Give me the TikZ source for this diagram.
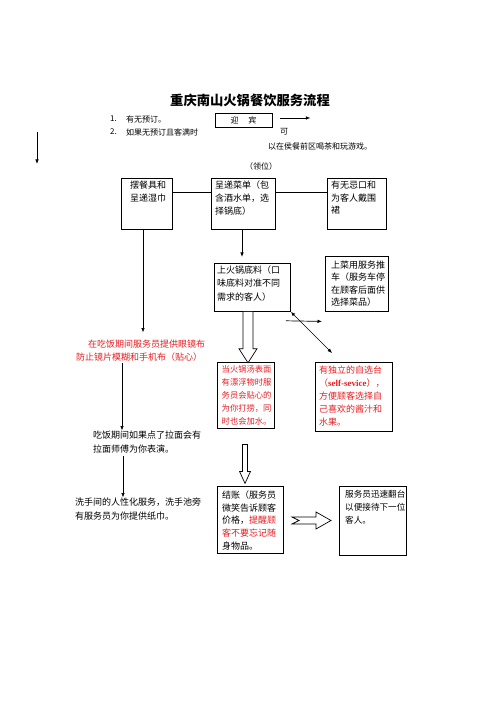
\documentclass[tikz,border=0pt]{standalone}
\usepackage{fontspec}
\setmainfont{Noto Sans CJK SC}
\newfontfamily\serifb{Liberation Serif}
\usetikzlibrary{arrows.meta,calc}
\definecolor{redtxt}{RGB}{230,30,35}
\begin{document}
\begin{tikzpicture}[x=1pt,y=-1pt,
  box/.style={draw, line width=0.8pt, inner sep=0pt, anchor=north west},
  heavybox/.style={draw, line width=1.4pt, inner sep=0pt, anchor=north west},
  txt/.style={inner sep=0pt, align=left, anchor=north west, font=\fontsize{9}{12.8}\selectfont},
  small/.style={inner sep=0pt, font=\fontsize{8}{10}\selectfont},
  arr/.style={line width=0.7pt, -{Latex[length=4.5pt,width=3.5pt]}},
  arrboth/.style={line width=0.7pt, {Latex[length=4.5pt,width=3.5pt]}-{Latex[length=4.5pt,width=3.5pt]}},
  ln/.style={line width=0.7pt},
  hollow/.style={draw, line width=0.7pt, fill=white}]
\useasboundingbox (0,0) rectangle (500,708);
\fill[white] (0,0) rectangle (500,708);

% title and header
\node[inner sep=0pt, font=\fontsize{13.3}{15}\selectfont\bfseries] (title) at (250,100) {重庆南山火锅餐饮服务流程};
\node[small, anchor=west] (n1) at (110,119) {1.};
\node[small, anchor=west] (t1) at (126,119) {有无预订。};
\node[small, anchor=west] (n2) at (110,132) {2.};
\node[small, anchor=west] (t2) at (126,132) {如果无预订且客满时};
\node[draw, line width=0.8pt, minimum width=57pt, minimum height=14pt, inner sep=0pt, font=\fontsize{8}{10}\selectfont] (yb) at (243.5,120) {迎\hspace{1.2em}宾};
\coordinate (ybs) at ($(yb.east)+(8,-2)$);
\draw[arr] (ybs) -- ++(30,0) coordinate (ybe);
\node[small] (ke) at (284,132) {可};
\node[small, anchor=west] (hou) at (268,146) {以在侯餐前区喝茶和玩游戏。};
\node[small] (lw) at (261,166) {（领位）};
\coordinate (l1) at (37,132);
\coordinate (l2) at (37,164);
\draw[arr] (l1) -- (l2);

% first row
\node[box, minimum width=51pt, minimum height=51pt] (A) at (121,178) {};
\node[txt] (At) at (130,180.5) {摆餐具和\\呈递湿巾};
\node[box, minimum width=64pt, minimum height=51pt] (B) at (211,178) {};
\node[txt] (Bt) at (215,180.5) {呈递菜单（包\\含酒水单，选\\择锅底）};
\node[box, minimum width=59pt, minimum height=51pt] (C) at (327,178) {};
\node[txt] (Ct) at (331,180.5) {有无忌口和\\为客人戴围\\裙};
\draw[ln] ($(A.north east)+(0,14)$) -- ($(B.north west)+(0,14)$);
\draw[ln] ($(B.north east)+(0,14)$) -- ($(C.north west)+(0,14)$);

% second row
\node[box, minimum width=76pt, minimum height=48pt] (D) at (214,263) {};
\node[txt, font=\fontsize{9}{13.3}\selectfont] (Dt) at (217,265.5) {上火锅底料（口\\味底料对准不同\\需求的客人）};
\node[heavybox, minimum width=63pt, minimum height=55pt] (E) at (325,256) {};
\node[txt, font=\fontsize{9}{12.4}\selectfont] (Et) at (331,260.5) {上菜用服务推\\车（服务车停\\在顾客后面供\\选择菜品）};
\coordinate (b1) at ($(B.south west)+(31,0)$);
\draw[arr, shorten >=6pt] (b1) -- (b1 |- D.north);

% red note left
\node[txt, text=redtxt] (red) at (76,339.5) {\hspace*{12pt}在吃饭期间服务员提供眼镜布\\防止镜片模糊和手机布（贴心）};
\coordinate (a1) at ($(A.south west)+(22,0)$);
\draw[arr, shorten >=7pt] (a1) -- (a1 |- red.north);

% third row
\node[heavybox, minimum width=57pt, minimum height=66pt] (F) at (217,362) {};
\node[txt, text=redtxt, font=\fontsize{8.3}{13}\selectfont] (Ft) at (221.5,365.5) {当火锅汤表面\\有漂浮物时服\\务员会贴心的\\为你打捞，同\\时也会加水。};
\node[heavybox, minimum width=77pt, minimum height=69pt] (G) at (315,362) {};
\node[txt, text=redtxt, font=\fontsize{9}{13}\selectfont] (Gt) at (319,365.5) {有独立的自选台\\（{\serifb\bfseries self-sevice}），\\方便顾客选择自\\己喜欢的酱汁和\\水果。};

% hollow arrow D -> F
\coordinate (h1) at ($(D.south west)+(34,0)$);
\draw[hollow] ($(h1)+(-5,0)$) -- ($(h1)+(-5,37)$) -- ($(h1)+(-9,37)$) -- ($(h1)+(0,51)$) -- ($(h1)+(9,37)$) -- ($(h1)+(5,37)$) -- ($(h1)+(5,0)$);

% small arrows between D/E
\draw[arr] ($(D.south east)+(-5,9)$) -- ($(E.south west)+(-3,9)$);
\draw[arrboth] (D.south east) -- ($(G.north west)+(17,-9)$);

% left column texts
\node[txt, font=\fontsize{9}{14}\selectfont] (lm) at (93,430.5) {吃饭期间如果点了拉面会有\\拉面师傅为你表演。};
\coordinate (r1) at ($(red.south west)+(46,2)$);
\draw[arr] (r1) -- (r1 |- lm.north) ;
\node[txt, font=\fontsize{9}{14}\selectfont] (xs) at (75,497.5) {洗手间的人性化服务，洗手池旁\\有服务员为你提供纸巾。};
\coordinate (r2) at ($(lm.south west)+(30,3)$);
\draw[arr] (r2) -- (r2 |- xs.north);

% fourth row
\node[draw, line width=1pt, inner sep=0pt, anchor=north west, minimum width=66pt, minimum height=67pt] (H) at (217,486) {};
\node[txt, font=\fontsize{9}{12.7}\selectfont] (Ht) at (222,490.5) {结账（服务员\\微笑告诉顾客\\价格，\textcolor{redtxt}{提醒顾}\\\textcolor{redtxt}{客不要忘记随}\\身物品。};
\node[draw, line width=1pt, inner sep=0pt, anchor=north west, minimum width=67pt, minimum height=69pt] (I) at (339,486) {};
\node[txt, font=\fontsize{8.6}{12.7}\selectfont] (It) at (345,490.5) {服务员迅速翻台\\以便接待下一位\\客人。};

% hollow arrow F -> H
\coordinate (h2) at ($(F.south west)+(28,15)$);
\draw[hollow] ($(h2)+(-2.5,0)$) -- ($(h2)+(-2.5,27)$) -- ($(h2)+(-5.5,27)$) -- ($(h2)+(0,39)$) -- ($(h2)+(5.5,27)$) -- ($(h2)+(2.5,27)$) -- ($(h2)+(2.5,0)$) -- cycle;

% hollow arrow H -> I
\coordinate (h3) at ($(H.east)+(8,0.5)$);
\draw[hollow] ($(h3)+(0,-3.5)$) -- ($(h3)+(24,-3.5)$) -- ($(h3)+(24,-8.5)$) -- ($(h3)+(39,0)$) -- ($(h3)+(24,8.5)$) -- ($(h3)+(24,3.5)$) -- ($(h3)+(0,3.5)$) -- ($(h3)+(7,0)$) -- cycle;
\end{tikzpicture}
\end{document}
